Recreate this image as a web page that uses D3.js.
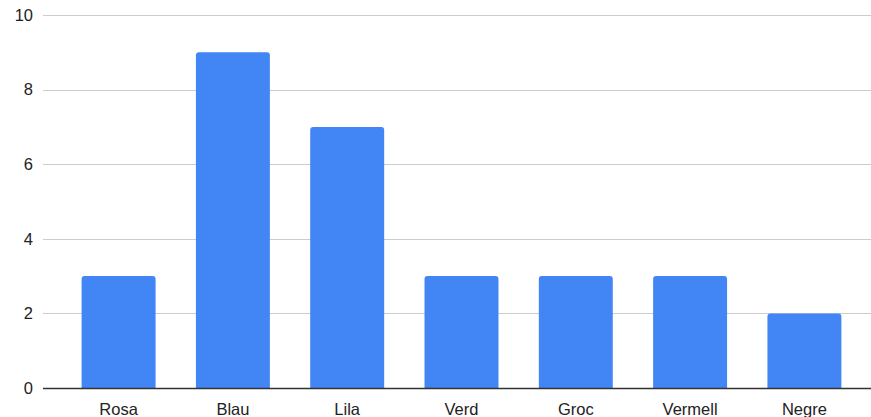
<!DOCTYPE html>
<html><head><meta charset="utf-8">
<script src="https://cdn.jsdelivr.net/npm/d3@7"></script>
<style>body{margin:0;background:#fff}svg{display:block}text{font-family:"Liberation Sans",Arial,sans-serif}</style>
</head><body>
<script>
const categories = ["Rosa","Blau","Lila","Verd","Groc","Vermell","Negre"];
const values = [3,9,7,3,3,3,2];
const yTicks = [0,2,4,6,8,10];

const W = 871, H = 417;
const svg = d3.select("body").append("svg").attr("width",W).attr("height",H);
const y = d3.scaleLinear().domain([0,10]).range([388,15]);
const x = d3.scaleBand().domain(categories).range([61.5,861.5]).paddingInner(0.353).paddingOuter(0.176);
const gridX0 = 43, gridX1 = 871;

svg.append("g").selectAll("line").data(yTicks.filter(d=>d>0)).join("line")
  .attr("x1",gridX0).attr("x2",gridX1)
  .attr("y1",d=>Math.round(y(d))+0.5).attr("y2",d=>Math.round(y(d))+0.5)
  .attr("stroke","#cccccc").attr("stroke-width",1);

svg.append("g").selectAll("text").data(yTicks).join("text")
  .attr("x",33).attr("y",d=>y(d)).attr("dy","0.35em").attr("text-anchor","end")
  .attr("font-size",16.5).attr("fill","#222").text(d=>d);

const r = 3;
svg.append("g").selectAll("path").data(values).join("path")
  .attr("fill","#4285f4")
  .attr("d",(d,i)=>{
    const x0 = x(categories[i]), w = x.bandwidth(), top = y(d), bot = y(0);
    return `M${x0},${bot}V${top+r}Q${x0},${top} ${x0+r},${top}H${x0+w-r}Q${x0+w},${top} ${x0+w},${top+r}V${bot}Z`;
  });

svg.append("line").attr("x1",gridX0).attr("x2",gridX1).attr("y1",388.5).attr("y2",388.5)
  .attr("stroke","#333").attr("stroke-width",1.3);

svg.append("g").selectAll("text").data(categories).join("text")
  .attr("x",d=>x(d)+x.bandwidth()/2).attr("y",415).attr("text-anchor","middle")
  .attr("font-size",16.5).attr("fill","#222").text(d=>d);
</script>
</body></html>
